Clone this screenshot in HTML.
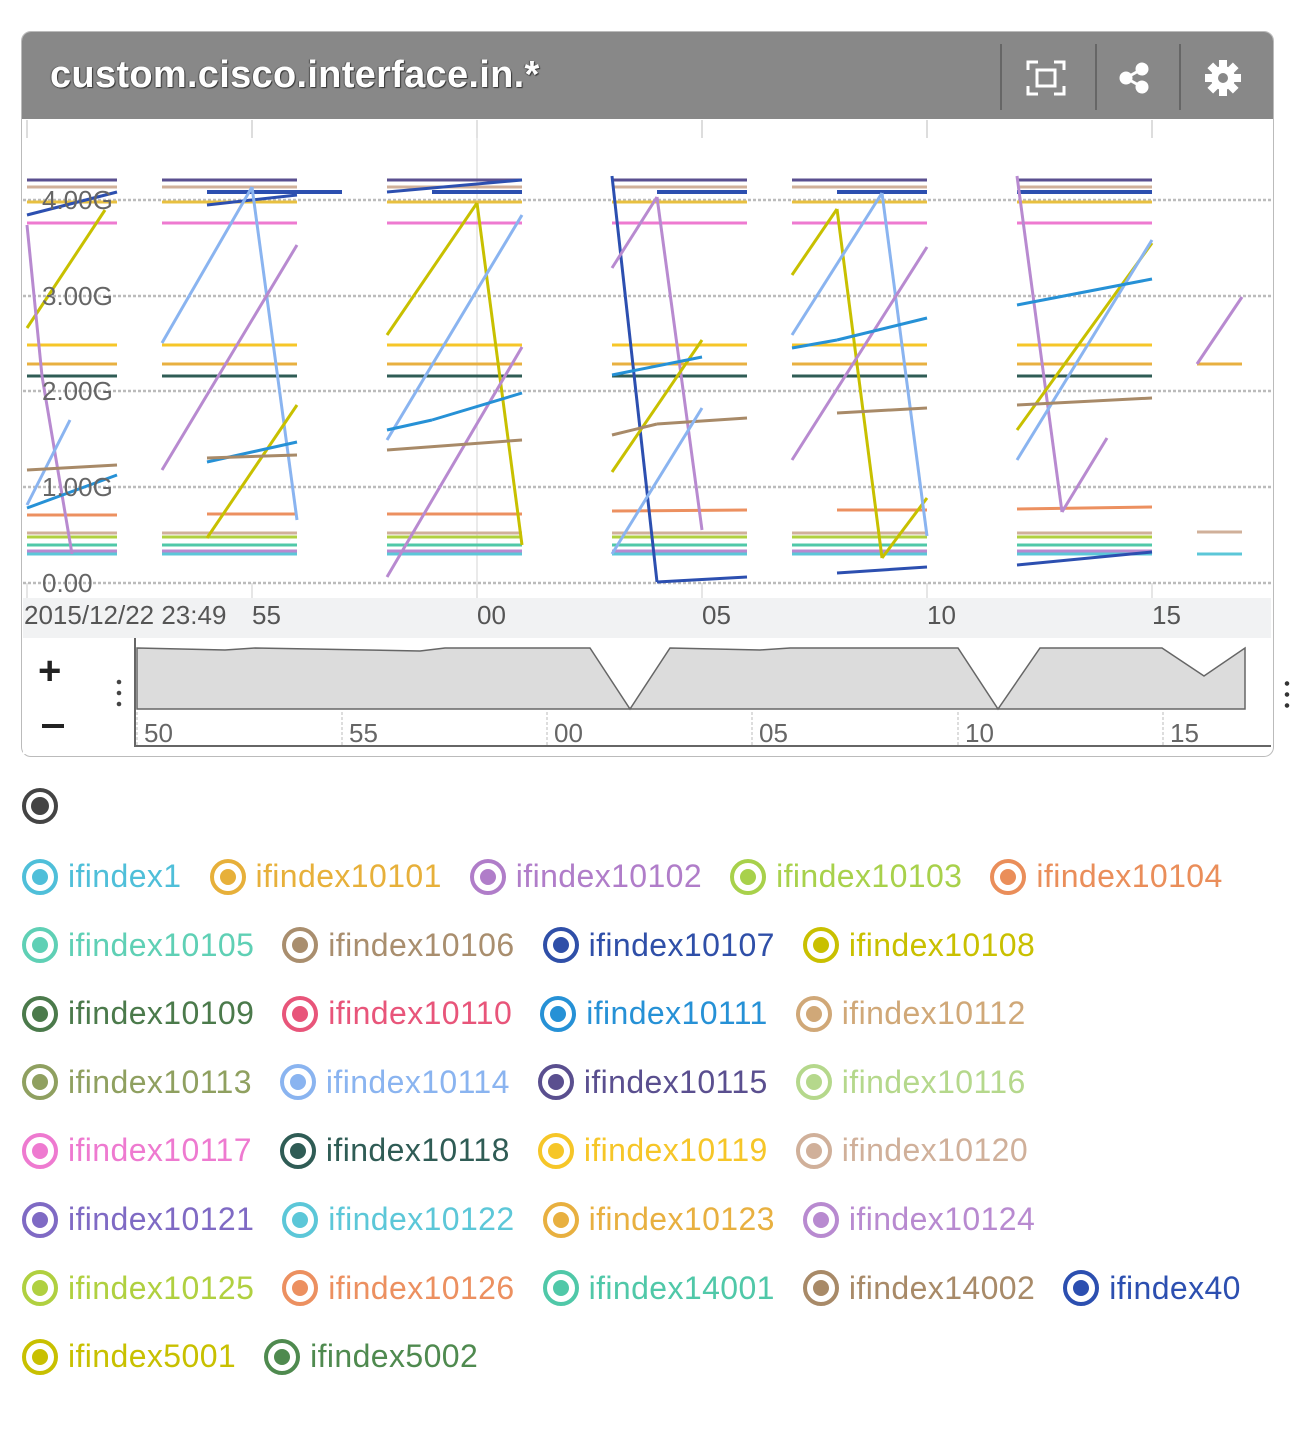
<!DOCTYPE html>
<html><head><meta charset="utf-8"><style>
body{margin:0;background:#fff;width:1300px;height:1438px;position:relative;font-family:"Liberation Sans",Arial,sans-serif;overflow:hidden}
#panel{position:absolute;left:21px;top:31px;width:1251px;height:724px;border:1px solid #bbb;border-radius:10px;overflow:hidden;background:#fff}
#hdr{position:absolute;left:0;top:0;width:1251px;height:87px;background:#888}
#hdr .t{position:absolute;left:28px;top:22px;font-size:38px;font-weight:bold;color:#fff;text-shadow:1px 1px 1px #333,-1px 0 1px #555;letter-spacing:0.3px}
.sep{position:absolute;top:12px;width:2px;height:66px;background:#666}
.leg{position:absolute;left:22px;font-size:32px;display:flex;align-items:center;white-space:nowrap;letter-spacing:0.4px}
.it{display:flex;align-items:center;margin-right:28px}
.ic{width:28px;height:28px;border-radius:50%;border:4px solid;box-sizing:content-box;position:relative;margin-right:10px}
.ic::after{content:"";position:absolute;left:6px;top:6px;width:16px;height:16px;border-radius:50%;background:currentColor}
</style></head><body>
<div id="panel">
<div id="hdr"><div class="t">custom.cisco.interface.in.*</div>
<div class="sep" style="left:978px"></div><div class="sep" style="left:1073px"></div><div class="sep" style="left:1157px"></div>
<svg style="position:absolute;left:1004px;top:28px" width="40" height="36"><g fill="none" stroke="#fff" stroke-width="3"><path d="M2 10V2h10M28 2h10v8M38 26v8H28M12 34H2v-8"/><rect x="11" y="10" width="18" height="16"/></g></svg>
<svg style="position:absolute;left:1096px;top:30px" width="34" height="32"><g fill="#fff" stroke="#fff" stroke-width="3"><circle cx="8" cy="16" r="5"/><circle cx="24" cy="7" r="5"/><circle cx="24" cy="25" r="5"/><path d="M8 16L24 7M8 16L24 25"/></g></svg>
<svg style="position:absolute;left:1182px;top:27px" width="38" height="38" viewBox="-19 -19 38 38"><g fill="#fff"><circle r="12"/><g id="tt"><rect x="-4" y="-18" width="8" height="36"/></g><use href="#tt" transform="rotate(45)"/><use href="#tt" transform="rotate(90)"/><use href="#tt" transform="rotate(135)"/></g><circle r="5" fill="#888"/></svg>
</div>
</div>
<svg id="ch" style="position:absolute;left:0;top:0" width="1300" height="760"></svg>
<div style="position:absolute;left:1284px;top:678px;width:6px;height:34px;background:radial-gradient(circle,#333 2px,transparent 2.5px) 0 0/6px 11px"></div>
<svg style="position:absolute;left:20px;top:786px" width="40" height="40"><circle cx="20" cy="20" r="16" fill="none" stroke="#444" stroke-width="4"/><circle cx="20" cy="20" r="9" fill="#444"/></svg>
<div id="legend"></div>
<script>
var s='';
function L(x1,y1,x2,y2,c,w,d){s+='<line x1="'+x1+'" y1="'+y1+'" x2="'+x2+'" y2="'+y2+'" stroke="'+c+'" stroke-width="'+(w||3)+'"'+(d?' stroke-dasharray="'+d+'"':'')+'/>';}
s+='<rect x="23" y="598" width="1248" height="40" fill="#f1f2f3"/>';
s+='<rect x="23" y="638" width="112" height="116" fill="#fff"/>';
[27,252,477,702,927,1152].forEach(function(x){L(x,120,x,138,'#ddd',2);L(x,583,x,598,'#ddd',1.5);});
L(477,120,477,583,'#e4e4e4',1.5);
[200,296,391,487,583].forEach(function(y){L(23,y,1271,y,'#bbb',2.5,'3 2');});
var G=[[27,117],[162,297],[387,522],[612,747],[792,927],[1017,1152]];
var H=[[180,'#5a4f8f'],[187,'#d0b09a'],[202,'#e8c040'],[223,'#ee7ad0'],[345,'#f6c628'],[364,'#e8b040'],[376,'#2f5c55'],[533,'#d0b09a'],[537,'#b0d040'],[545,'#50c8a8'],[551,'#b88ad0'],[554,'#5cc7d8']];
G.forEach(function(g){H.forEach(function(h){L(g[0],h[0],g[1],h[0],h[1],3);});});
L(207,192,342,192,'#2c4fb0',4);L(432,192,522,192,'#2c4fb0',4);L(657,192,747,192,'#2c4fb0',4);L(837,192,927,192,'#2c4fb0',4);L(1017,192,1152,192,'#2c4fb0',4);
L(27,215,117,192,'#2c4fb0',3);L(207,205,297,195,'#2c4fb0',3);L(387,192,522,180,'#2c4fb0',3);
L(27,515,117,515,'#ec9060',3);L(207,514,297,514,'#ec9060',3);L(387,514,522,514,'#ec9060',3);L(612,511,747,510,'#ec9060',3);L(837,510,927,510,'#ec9060',3);L(1017,509,1152,507,'#ec9060',3);
L(1197,532,1242,532,'#d0b09a',3);L(1197,554,1242,554,'#5cc7d8',3);L(1197,364,1242,364,'#e8b040',3);L(1197,364,1242,297,'#b88ad0',3);
L(27,328,105,210,'#c8c000');L(27,225,42,376,'#b88ad0');L(42,376,72,554,'#b88ad0');
L(27,505,70,420,'#8ab4f0');L(27,508,117,475,'#2691d6');L(27,470,117,465,'#a88a68');
L(162,343,252,187,'#8ab4f0');L(252,187,297,520,'#8ab4f0');L(162,470,297,245,'#b88ad0');
L(207,538,297,405,'#c8c000');L(207,462,297,442,'#2691d6');L(207,458,297,455,'#a88a68');
L(387,335,477,203,'#c8c000');L(477,203,522,545,'#c8c000');L(387,440,522,215,'#8ab4f0');L(387,577,522,347,'#b88ad0');
L(387,430,432,420,'#2691d6');L(432,420,522,393,'#2691d6');L(387,450,522,440,'#a88a68');
L(612,176,657,582,'#2c4fb0',3);L(657,582,747,577,'#2c4fb0',3);L(612,268,657,197,'#b88ad0');L(657,197,702,530,'#b88ad0');
L(612,472,702,340,'#c8c000');L(612,375,702,357,'#2691d6');L(612,435,657,424,'#a88a68');L(657,424,747,418,'#a88a68');L(612,554,702,408,'#8ab4f0');
L(792,275,837,209,'#c8c000');L(837,209,882,558,'#c8c000');L(882,558,927,498,'#c8c000');L(792,335,882,193,'#8ab4f0');L(882,193,927,536,'#8ab4f0');
L(792,460,927,247,'#b88ad0');L(792,348,837,340,'#2691d6');L(837,340,927,318,'#2691d6');L(837,413,927,408,'#a88a68');L(837,573,927,567,'#2c4fb0');
L(1017,176,1062,512,'#b88ad0');L(1062,512,1107,438,'#b88ad0');L(1017,430,1152,243,'#c8c000');L(1017,460,1152,240,'#8ab4f0');
L(1017,305,1152,279,'#2691d6');L(1017,405,1152,398,'#a88a68');L(1017,565,1152,552,'#2c4fb0');
function T(x,y,t,sz,c,a){s+='<text x="'+x+'" y="'+y+'" font-size="'+sz+'" fill="'+(c||'#555')+'" font-family="Liberation Sans,Arial,sans-serif"'+(a?' text-anchor="'+a+'"':'')+'>'+t+'</text>';}
[['4.00G',209],['3.00G',305],['2.00G',400],['1.00G',496],['0.00',592]].forEach(function(v){T(42,v[1],v[0],26,'#666');});
T(24,624,'2015/12/22 23:49',26,'#555');T(252,624,'55',26);T(477,624,'00',26);T(702,624,'05',26);T(927,624,'10',26);T(1152,624,'15',26);
s+='<path d="M137 648 L225 650 L255 648 L420 651 L445 648 L590 648 L630 709 L670 648 L760 650 L790 648 L958 648 L998 709 L1040 648 L1162 648 L1204 676 L1245 648 L1245 709 L137 709Z" fill="#dcdcdc" stroke="#666" stroke-width="1.5"/>';
L(135,638,135,747,'#666',2);L(135,746,1271,746,'#666',2);
[137,342,547,752,958,1163].forEach(function(x,i){L(x,712,x,745,'#bbb',1,'3 2');T(x+7,742,['50','55','00','05','10','15'][i],26,'#666');});
s+='<text x="38" y="684" font-size="40" font-weight="bold" fill="#222" font-family="Liberation Sans">+</text>';
L(42,726,64,726,'#222',4);
s+='<circle cx="119" cy="682" r="2.3" fill="#444"/><circle cx="119" cy="693" r="2.3" fill="#444"/><circle cx="119" cy="704" r="2.3" fill="#444"/>';
document.getElementById('ch').innerHTML=s;
var rows=[
[['ifindex1','#4fbfd9'],['ifindex10101','#e7b03a'],['ifindex10102','#b07dc9'],['ifindex10103','#a8d14b'],['ifindex10104','#ea8e5a']],
[['ifindex10105','#5fd0b5'],['ifindex10106','#a98e6e'],['ifindex10107','#2f4fa8'],['ifindex10108','#c9c000']],
[['ifindex10109','#4b7a4b'],['ifindex10110','#e8557a'],['ifindex10111','#2691d6'],['ifindex10112','#d0a878']],
[['ifindex10113','#8fa060'],['ifindex10114','#8ab4f0'],['ifindex10115','#5a4f8f'],['ifindex10116','#b5d88c']],
[['ifindex10117','#ee7ad0'],['ifindex10118','#2f5c55'],['ifindex10119','#f6c628'],['ifindex10120','#d0b09a']],
[['ifindex10121','#7f6ac4'],['ifindex10122','#5cc7d8'],['ifindex10123','#e8b040'],['ifindex10124','#b88ad0']],
[['ifindex10125','#b0d040'],['ifindex10126','#ec9060'],['ifindex14001','#50c8a8'],['ifindex14002','#a88a68'],['ifindex40','#2c4fb0']],
[['ifindex5001','#c8c000'],['ifindex5002','#4f8a4f']]];
var h='';
rows.forEach(function(r,i){h+='<div class="leg" style="top:'+(858+i*68.6)+'px">';r.forEach(function(it){h+='<div class="it" style="color:'+it[1]+'"><div class="ic"></div>'+it[0]+'</div>';});h+='</div>';});
document.getElementById('legend').innerHTML=h;
</script>
</body></html>
